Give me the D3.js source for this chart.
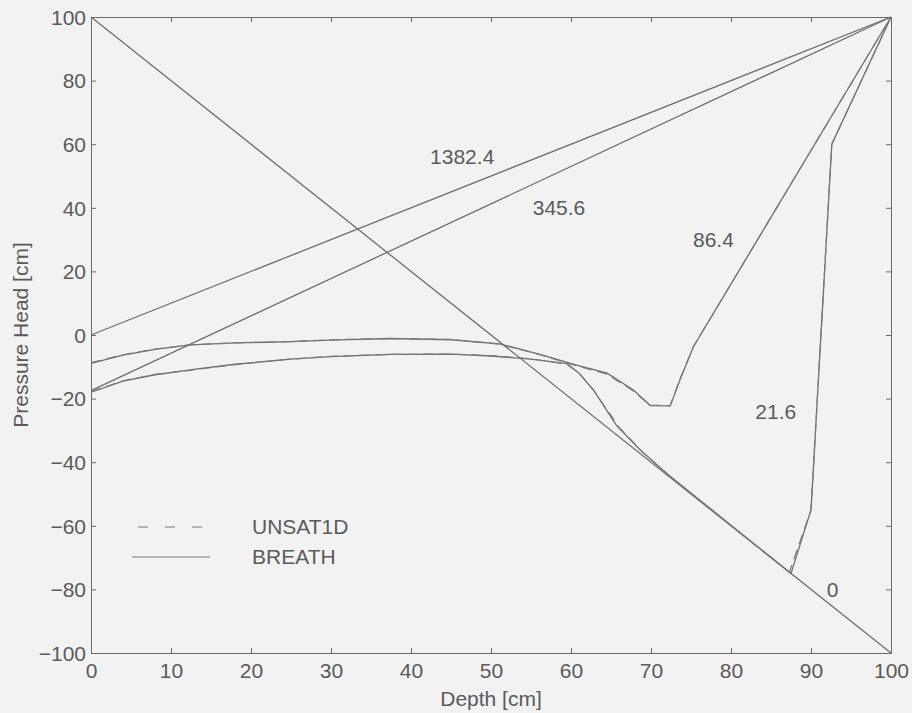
<!DOCTYPE html>
<html>
<head>
<meta charset="utf-8">
<script src="https://cdn.jsdelivr.net/npm/d3@7"></script>
<style>
  body { margin: 0; background: #f2f2f2; }
  svg { display: block; font-family: "Liberation Sans", Arial, sans-serif; }
  .tick text { fill: #5a5a5a; font-size: 21px; }
  .axis path, .axis line { stroke: #6a6a6a; }
  .lbl { fill: #5a5a5a; font-size: 21px; }
</style>
</head>
<body>
<svg id="chart"></svg>
<script>
// depth [cm] / pressure head [cm] pairs
const breath_0 = [[0, 100], [100, -100]];
const breath_21_6 = [[0, -18], [4, -14.5], [8, -12.5], [12.4, -11], [18, -9.2], [24.9, -7.6], [30, -6.8],
  [37.4, -6.1], [45, -6], [50, -6.6], [55, -7.6], [59.5, -9], [61, -12], [62.8, -17.3], [65.7, -28.5],
  [68.6, -36], [72, -43.6], [80, -59.8], [87.5, -75], [90, -55], [92.6, 60], [100, 100]];
const breath_86_4 = [[0, -8.9], [4, -6.3], [8, -4.5], [12.4, -3.1], [18, -2.5], [24.9, -2.1], [30, -1.6],
  [37.4, -1.1], [45, -1.5], [51.1, -2.8], [56, -6], [60.7, -9.5], [64.5, -12], [67.8, -17.3], [69.9, -22.2],
  [72.4, -22.3], [73.6, -14.2], [75.3, -3.7], [100, 100]];
const breath_345_6 = [[0, -17.5], [100, 100]];
const breath_1382_4 = [[0, 0], [100, 100]];

const unsat_21_6 = [[0, -17.8], [4, -14.4], [8, -12.4], [12.4, -11.1], [18, -9.3], [24.9, -7.6], [30, -6.7],
  [37.4, -6.1], [45, -6], [50, -6.5], [55, -7.5], [59.5, -9.2], [61.2, -12.5], [63, -18], [66, -29],
  [69, -37], [73, -45.8], [80, -60], [87.3, -74.6], [90, -55], [92.6, 60], [100, 100]];
const unsat_86_4 = [[0, -8.7], [4, -6.2], [8, -4.4], [12.4, -3.1], [18, -2.5], [24.9, -2.1], [30, -1.5],
  [37.4, -1.1], [45, -1.4], [51.1, -2.9], [56, -6.1], [60.7, -9.7], [64.5, -12.3], [67.8, -17.6], [69.9, -22.1],
  [72.4, -22.2], [73.6, -14], [75.3, -3.7], [100, 100]];

const breathSeries = [breath_0, breath_21_6, breath_86_4, breath_345_6, breath_1382_4];
const unsatSeries = [unsat_21_6, unsat_86_4];

const curveLabels = [
  {text: "1382.4", x: 46.4, y: 56},
  {text: "345.6", x: 58.5, y: 40},
  {text: "86.4", x: 77.8, y: 30},
  {text: "21.6", x: 85.6, y: -24},
  {text: "0", x: 92.7, y: -80}
];

const xTicks = [0, 10, 20, 30, 40, 50, 60, 70, 80, 90, 100];
const yTicks = [-100, -80, -60, -40, -20, 0, 20, 40, 60, 80, 100];

const W = 912, H = 713;
const margin = {top: 17, right: 21, bottom: 60, left: 91};
const width = W - margin.left - margin.right;
const height = H - margin.top - margin.bottom;

const svg = d3.select("#chart").attr("width", W).attr("height", H);
const g = svg.append("g").attr("transform", `translate(${margin.left},${margin.top})`);

const x = d3.scaleLinear().domain([0, 100]).range([0, width]);
const y = d3.scaleLinear().domain([-100, 100]).range([height, 0]);

// frame with inward ticks on all sides
const xAxisG = g.append("g").attr("class", "axis")
  .attr("transform", `translate(0,${height})`)
  .call(d3.axisBottom(x).tickValues(xTicks).tickSize(-5).tickPadding(10).tickSizeOuter(0));
const yAxisG = g.append("g").attr("class", "axis")
  .call(d3.axisLeft(y).tickValues(yTicks).tickSize(-5).tickPadding(5)
    .tickFormat(d => d < 0 ? "\u2212" + Math.abs(d) : d).tickSizeOuter(0));
g.append("g").attr("class", "axis")
  .call(d3.axisTop(x).tickValues(xTicks).tickSize(-5).tickFormat("").tickSizeOuter(0));
g.append("g").attr("class", "axis")
  .attr("transform", `translate(${width},0)`)
  .call(d3.axisRight(y).tickValues(yTicks).tickSize(-5).tickFormat("").tickSizeOuter(0));
xAxisG.selectAll(".tick text").attr("dy", "0.71em");
yAxisG.selectAll(".tick text").attr("dy", "0.35em");

const line = d3.line().x(d => x(d[0])).y(d => y(d[1]));

g.selectAll(".breath")
  .data(breathSeries)
  .join("path")
  .attr("class", "breath")
  .attr("d", line)
  .attr("fill", "none")
  .attr("stroke", "#6e6e6e")
  .attr("stroke-width", 1.3);

g.selectAll(".unsat")
  .data(unsatSeries)
  .join("path")
  .attr("class", "unsat")
  .attr("d", line)
  .attr("fill", "none")
  .attr("stroke", "#7a7a7a")
  .attr("stroke-width", 1.2)
  .attr("stroke-dasharray", "10,6");

g.selectAll(".clabel")
  .data(curveLabels)
  .join("text")
  .attr("class", "lbl clabel")
  .attr("x", d => x(d.x))
  .attr("y", d => y(d.y))
  .attr("text-anchor", "middle")
  .attr("dy", "0.35em")
  .text(d => d.text);

// legend
const legend = g.append("g").attr("transform", "translate(45,510)");
legend.append("line").attr("x1", 2).attr("x2", 66).attr("y1", 0).attr("y2", 0)
  .attr("stroke", "#7a7a7a").attr("stroke-width", 1.2).attr("stroke-dasharray", "10,17");
legend.append("text").attr("class", "lbl").attr("x", 116).attr("y", 0).attr("dy", "0.35em").text("UNSAT1D");
legend.append("line").attr("x1", -4).attr("x2", 74).attr("y1", 30).attr("y2", 30)
  .attr("stroke", "#7a7a7a").attr("stroke-width", 1.2);
legend.append("text").attr("class", "lbl").attr("x", 116).attr("y", 30).attr("dy", "0.35em").text("BREATH");

// axis titles
svg.append("text").attr("class", "lbl")
  .attr("text-anchor", "middle")
  .attr("x", margin.left + width / 2)
  .attr("y", 706)
  .text("Depth [cm]");
svg.append("text").attr("class", "lbl")
  .attr("text-anchor", "middle")
  .attr("transform", `translate(28,${margin.top + height / 2}) rotate(-90)`)
  .text("Pressure Head [cm]");
</script>
</body>
</html>
